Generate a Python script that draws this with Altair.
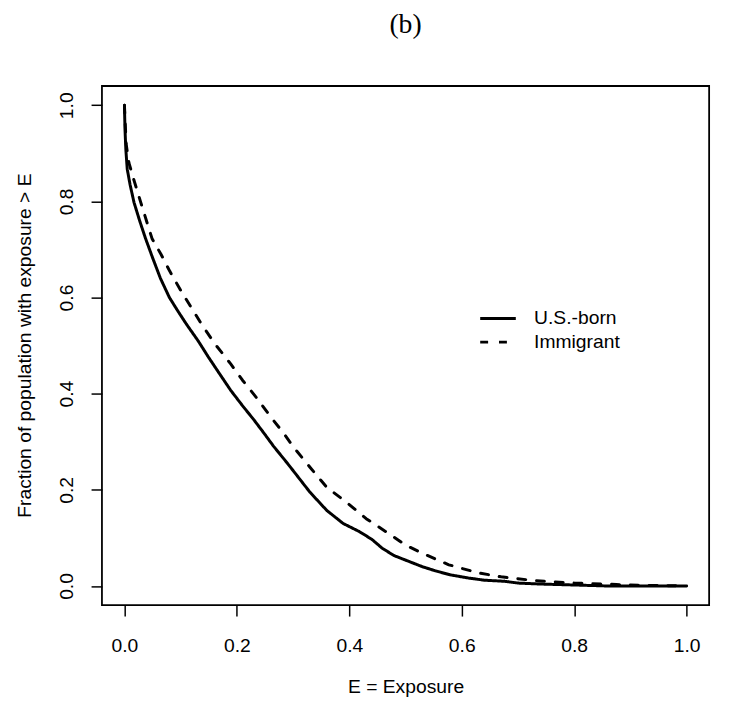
import altair as alt
import pandas as pd

series_names = ["U.S.-born", "Immigrant"]

us_x = [0.0, 0.001, 0.0025, 0.005, 0.01, 0.017, 0.027, 0.0375, 0.05, 0.064, 0.08, 0.095,
        0.11, 0.131, 0.15, 0.17, 0.189, 0.21, 0.23, 0.25, 0.265, 0.29, 0.31, 0.33, 0.36,
        0.389, 0.418, 0.44, 0.459, 0.48, 0.506, 0.53, 0.553, 0.58, 0.612, 0.64, 0.676,
        0.70, 0.74, 0.77, 0.80, 0.858, 0.9, 0.95, 1.0]
us_y = [1.0, 0.95, 0.908, 0.867, 0.835, 0.798, 0.76, 0.723, 0.683, 0.64, 0.60, 0.572,
        0.545, 0.51, 0.475, 0.44, 0.407, 0.375, 0.346, 0.315, 0.291, 0.255, 0.225, 0.195, 0.157,
        0.13, 0.113, 0.097, 0.078, 0.063, 0.051, 0.04, 0.0315, 0.023, 0.0165, 0.012, 0.0097,
        0.006, 0.004, 0.003, 0.002, 0.0, 0.0, 0.0, 0.0]

im_x = [0.0, 0.003, 0.008, 0.018, 0.029, 0.049, 0.065, 0.081, 0.1, 0.137, 0.16, 0.189,
        0.21, 0.236, 0.26, 0.283, 0.30, 0.33, 0.36, 0.395, 0.43, 0.465, 0.5, 0.53, 0.577,
        0.63, 0.67, 0.73, 0.80, 0.875, 0.93, 1.0]
im_y = [1.0, 0.92, 0.88, 0.84, 0.798, 0.723, 0.69, 0.654, 0.615, 0.545, 0.505, 0.462,
        0.428, 0.39, 0.352, 0.318, 0.29, 0.247, 0.205, 0.174, 0.14, 0.113, 0.085, 0.068, 0.044,
        0.027, 0.019, 0.011, 0.006, 0.003, 0.001, 0.0]

x_ticks = [0.0, 0.2, 0.4, 0.6, 0.8, 1.0]
y_ticks = [0.0, 0.2, 0.4, 0.6, 0.8, 1.0]

df = pd.concat([
    pd.DataFrame({"series": series_names[0], "x": us_x, "y": us_y}),
    pd.DataFrame({"series": series_names[1], "x": im_x, "y": im_y}),
])

FONT = "Liberation Sans"
FS = 19.5

chart = alt.Chart(df).mark_line(
    color="black", strokeWidth=3, strokeCap="round", strokeJoin="round"
).encode(
    x=alt.X("x:Q",
            scale=alt.Scale(domain=[-0.04, 1.04], nice=False, zero=False),
            axis=alt.Axis(values=x_ticks, format=".1f", title="E = Exposure",
                          grid=False, domain=False, tickSize=11, tickColor="black",
                          tickWidth=1.5, labelFont=FONT, labelFontSize=FS,
                          labelColor="black", labelPadding=21, labelFlush=False,
                          titleFont=FONT, titleFontSize=FS, titleFontWeight="normal",
                          titleColor="black", titleX=307, titleY=82,
                          titleBaseline="middle", titleAlign="center")),
    y=alt.Y("y:Q",
            scale=alt.Scale(domain=[-0.04, 1.04], nice=False, zero=False),
            axis=alt.Axis(values=y_ticks, format=".1f",
                          title="Fraction of population with exposure > E",
                          grid=False, domain=False, tickSize=11, tickColor="black",
                          tickWidth=1.5, labelFont=FONT, labelFontSize=FS,
                          labelColor="black", labelAngle=270, labelAlign="center",
                          labelBaseline="bottom", labelPadding=15, labelFlush=False,
                          titleFont=FONT, titleFontSize=FS, titleFontWeight="normal",
                          titleColor="black", titleX=-78, titleY=262,
                          titleBaseline="middle", titleAlign="center", titleAngle=270)),
    strokeDash=alt.StrokeDash(
        "series:N",
        scale=alt.Scale(domain=series_names, range=[[1, 0], [8, 11]]),
        legend=alt.Legend(title=None, orient="none", legendX=381, legendY=224,
                          symbolType="stroke", symbolSize=1296, symbolStrokeWidth=3,
                          symbolStrokeColor="black", clipHeight=22, rowPadding=2,
                          labelFont=FONT, labelFontSize=FS, labelColor="black",
                          labelOffset=17, padding=0),
    ),
).properties(
    width=614,
    height=525,
    title=alt.TitleParams("(b)", font="Liberation Serif", fontSize=28,
                          fontWeight="normal", color="black", anchor="middle",
                          offset=48),
    autosize=alt.AutoSizeParams(type="none"),
    padding={"left": 95, "top": 75, "right": 12, "bottom": 93},
).configure_view(
    stroke="black", strokeWidth=1.8
)

chart.save("out.html", embed_options={"renderer": "svg", "actions": False})
